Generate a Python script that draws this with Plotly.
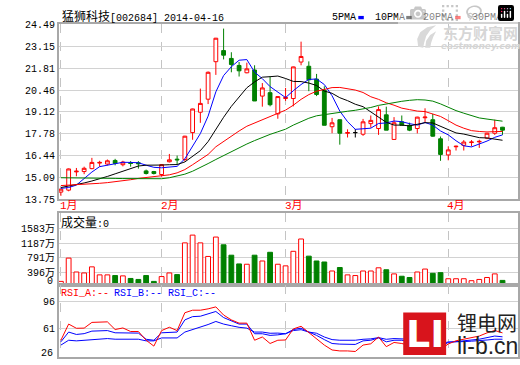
import plotly.graph_objects as go

# ---------------- data ----------------
idx = list(range(58))
month_idx = [0, 13, 29, 50]
month_labels = ["1月", "2月", "3月", "4月"]

opens = [14.20, 14.32, 15.44, 15.46, 15.64, 15.98, 15.92, 16.14, 15.88, 16.00,
         16.00, 15.50, 15.46, 15.28, 16.06, 16.22, 16.20, 17.85, 19.10, 19.90,
         22.20, 22.88, 22.40, 21.97, 21.52, 21.69, 20.09, 20.30, 19.00, 19.94,
         19.94, 22.18, 21.92, 21.13, 20.45, 18.21, 18.64, 17.81, 17.85, 17.75,
         18.40, 18.10, 18.94, 17.43, 18.51, 18.30, 18.10, 18.76, 18.64, 17.47,
         16.48, 16.98, 17.07, 17.24, 17.28, 17.51, 17.81, 18.18]
highs = [14.40, 15.65, 15.68, 15.76, 16.30, 16.12, 16.20, 16.24, 16.12, 16.10,
         16.10, 15.58, 15.50, 15.92, 16.54, 16.44, 17.65, 19.32, 20.55, 21.60,
         23.66, 24.23, 22.78, 22.18, 22.14, 21.98, 20.89, 21.29, 20.08, 20.59,
         21.90, 23.43, 22.22, 21.45, 20.69, 18.75, 18.66, 18.05, 18.07, 18.69,
         18.90, 19.46, 19.44, 18.80, 18.90, 18.46, 18.82, 19.34, 19.00, 17.61,
         17.01, 17.05, 17.39, 17.39, 17.41, 17.83, 18.64, 18.20]
lows = [13.97, 14.25, 15.17, 15.30, 15.60, 15.76, 15.84, 15.84, 15.78, 15.76,
        15.64, 15.28, 15.28, 15.16, 16.02, 15.90, 16.08, 17.41, 18.45, 19.60,
        21.39, 22.34, 21.55, 21.29, 21.49, 19.79, 19.44, 19.46, 18.70, 19.79,
        19.46, 21.98, 20.39, 20.09, 18.30, 17.81, 17.11, 17.55, 17.55, 17.65,
        18.15, 17.71, 18.00, 17.43, 18.30, 17.94, 17.80, 18.46, 17.60, 16.12,
        16.15, 16.75, 16.75, 17.01, 16.91, 17.45, 17.71, 17.71]
closes = [14.38, 15.62, 15.48, 15.66, 16.02, 16.02, 16.12, 15.96, 16.04, 15.96,
          15.94, 15.34, 15.34, 15.88, 16.18, 16.18, 17.63, 19.30, 19.64, 21.55,
          23.64, 22.60, 22.03, 21.64, 21.76, 19.79, 20.59, 19.56, 20.06, 20.00,
          21.88, 22.52, 21.09, 20.19, 18.30, 18.45, 17.81, 17.85, 17.85, 18.51,
          18.60, 19.26, 18.00, 18.45, 18.30, 18.00, 18.80, 18.80, 17.63, 16.51,
          16.79, 17.01, 17.27, 17.27, 17.31, 17.81, 18.15, 18.00]

ma5 = [14.43, 14.48, 14.63, 15.02, 15.43, 15.76, 15.86, 15.96, 16.03, 16.02,
       16.00, 15.85, 15.72, 15.69, 15.74, 15.78, 16.24, 17.03, 17.79, 18.86,
       20.35, 21.35, 21.89, 22.29, 22.33, 21.56, 21.16, 20.67, 20.35, 20.00,
       20.42, 20.80, 21.11, 21.14, 20.80, 20.11, 19.17, 18.52, 18.05, 18.09,
       18.12, 18.41, 18.44, 18.56, 18.52, 18.40, 18.31, 18.47, 18.31, 17.95,
       17.71, 17.35, 17.04, 16.97, 17.13, 17.33, 17.56, 17.71]
ma10 = [14.48, 14.57, 14.65, 14.76, 14.88, 15.00, 15.16, 15.32, 15.48, 15.62,
        15.80, 15.85, 15.84, 15.86, 15.88, 15.89, 16.05, 16.38, 16.74, 17.30,
        18.07, 18.79, 19.46, 20.04, 20.60, 20.96, 21.25, 21.28, 21.32, 21.17,
        20.99, 20.98, 20.89, 20.74, 20.40, 20.26, 19.99, 19.81, 19.59, 19.44,
        19.12, 18.79, 18.48, 18.31, 18.31, 18.26, 18.36, 18.46, 18.44, 18.24,
        18.05, 17.83, 17.76, 17.64, 17.54, 17.52, 17.46, 17.38]
ma20 = [14.60, 14.62, 14.64, 14.67, 14.70, 14.74, 14.78, 14.83, 14.88, 14.96,
        15.04, 15.10, 15.15, 15.20, 15.26, 15.38, 15.58, 15.88, 16.20, 16.51,
        16.98, 17.32, 17.65, 17.95, 18.24, 18.43, 18.65, 18.83, 19.03, 19.23,
        19.53, 19.89, 20.18, 20.39, 20.50, 20.61, 20.62, 20.55, 20.46, 20.31,
        20.05, 19.89, 19.68, 19.53, 19.35, 19.26, 19.17, 19.14, 19.01, 18.84,
        18.58, 18.31, 18.12, 17.97, 17.92, 17.89, 17.91, 17.92]
ma30 = [15.08, 15.08, 15.07, 15.07, 15.06, 15.06, 15.05, 15.04, 15.03, 15.02,
        15.01, 15.00, 15.00, 15.02, 15.08, 15.17, 15.30, 15.48, 15.70, 15.95,
        16.20, 16.45, 16.70, 16.93, 17.15, 17.36, 17.56, 17.74, 17.90, 18.06,
        18.31, 18.54, 18.73, 18.88, 18.96, 19.04, 19.10, 19.16, 19.22, 19.30,
        19.39, 19.52, 19.61, 19.70, 19.77, 19.83, 19.87, 19.85, 19.78, 19.61,
        19.39, 19.20, 19.04, 18.90, 18.75, 18.68, 18.60, 18.55]

volume = [150, 784, 406, 380, 546, 327, 327, 309, 300, 230,
          203, 309, 150, 282, 380, 335, 1198, 1410, 1198, 829,
          1357, 1146, 863, 626, 617, 863, 705, 942, 617, 573,
          969, 1304, 837, 705, 678, 433, 528, 327, 309, 433,
          433, 520, 467, 354, 290, 256, 406, 486, 370, 388,
          222, 222, 222, 169, 203, 256, 354, 177]

rsi_a = [46.7, 67.1, 61.8, 62.0, 69.2, 69.2, 69.9, 60.2, 62.2, 57.7,
         57.7, 46.7, 39.3, 58.9, 63.1, 58.9, 81.4, 84.6, 84.6, 86.3,
         88.8, 78.5, 72.4, 68.3, 68.3, 46.7, 50.8, 42.6, 46.7, 47.0,
         61.0, 64.3, 56.1, 48.8, 40.6, 34.4, 33.2, 33.2, 32.5, 40.6,
         42.2, 50.8, 38.6, 43.9, 42.6, 40.0, 50.0, 52.0, 42.6, 35.0,
         42.0, 46.0, 48.0, 50.0, 52.0, 56.0, 59.0, 56.0]
rsi_b = [44.7, 57.0, 54.0, 55.0, 58.2, 58.2, 58.9, 56.1, 56.1, 56.1,
         55.7, 47.9, 46.7, 56.1, 57.0, 57.0, 72.4, 76.5, 77.0, 80.2,
         83.0, 75.3, 71.2, 67.1, 67.1, 54.9, 54.9, 52.8, 53.5, 54.9,
         60.2, 61.9, 57.0, 52.8, 47.5, 42.6, 41.8, 41.8, 41.4, 45.9,
         46.7, 49.6, 44.7, 46.7, 46.7, 45.0, 49.0, 50.0, 44.0, 38.6,
         44.0, 45.0, 46.0, 47.0, 48.0, 50.0, 52.0, 51.0]
rsi_c = [40.6, 46.7, 45.9, 46.5, 47.9, 48.2, 48.8, 48.0, 48.0, 48.0,
         48.0, 45.9, 45.9, 49.6, 49.6, 49.6, 57.0, 60.0, 63.0, 66.5,
         70.4, 67.1, 65.0, 63.0, 62.0, 57.0, 57.0, 55.5, 55.7, 54.9,
         58.9, 60.0, 57.0, 55.5, 50.8, 47.5, 46.7, 46.7, 46.7, 47.9,
         48.4, 50.0, 47.9, 48.8, 48.8, 48.0, 49.0, 49.5, 46.0, 42.5,
         44.5, 44.5, 45.0, 45.5, 46.0, 47.0, 48.0, 48.0]

price_ticks = [13.75, 15.09, 16.44, 17.78, 19.12, 20.46, 21.81, 23.15, 24.49]
vol_ticks = [396, 791, 1187, 1583]
vol_tick_text = ["396万", "791万", "1187万", "1583万"]
rsi_ticks = [96, 61]

# ---------------- styling helpers ----------------
W, H = 520, 365
def fx(px): return px / W
def fy(py): return 1 - py / H

RED = "#FF0000"
GREEN = "#008000"
BLUE = "#0000FF"
GRID = "#d2d2d2"
BORDER = "#a8a8a8"
MONO = "Liberation Mono, Noto Sans CJK SC, monospace"

fig = go.Figure()

# candles (regular + the flat doji drawn black)
doji = [i for i in idx if opens[i] == closes[i]]
reg = [i for i in idx if i not in doji]
fig.add_trace(go.Candlestick(
    x=reg, open=[opens[i] for i in reg], high=[highs[i] for i in reg],
    low=[lows[i] for i in reg], close=[closes[i] for i in reg],
    increasing=dict(line=dict(color=RED, width=1), fillcolor="white"),
    decreasing=dict(line=dict(color=GREEN, width=1), fillcolor=GREEN),
    whiskerwidth=0, xaxis="x", yaxis="y", hoverinfo="skip"))
fig.add_trace(go.Candlestick(
    x=doji, open=[opens[i] for i in doji], high=[highs[i] for i in doji],
    low=[lows[i] for i in doji], close=[closes[i] for i in doji],
    increasing=dict(line=dict(color="black", width=1), fillcolor="black"),
    decreasing=dict(line=dict(color="black", width=1), fillcolor="black"),
    whiskerwidth=0, xaxis="x", yaxis="y", hoverinfo="skip"))

for arr, col in [(ma5, BLUE), (ma10, "black"), (ma20, RED), (ma30, GREEN)]:
    fig.add_trace(go.Scatter(x=idx, y=arr, mode="lines",
                             line=dict(color=col, width=1),
                             xaxis="x", yaxis="y", hoverinfo="skip"))

# volume
up = [i for i in idx if closes[i] >= opens[i]]
dn = [i for i in idx if closes[i] < opens[i]]
fig.add_trace(go.Bar(x=up, y=[volume[i] for i in up], width=0.62,
                     marker=dict(color="white", line=dict(color=RED, width=1)),
                     xaxis="x2", yaxis="y2", hoverinfo="skip"))
fig.add_trace(go.Bar(x=dn, y=[volume[i] for i in dn], width=0.62,
                     marker=dict(color=GREEN, line=dict(color=GREEN, width=1)),
                     xaxis="x2", yaxis="y2", hoverinfo="skip"))

# RSI
for arr, col in [(rsi_c, BLUE), (rsi_b, BLUE), (rsi_a, RED)]:
    fig.add_trace(go.Scatter(x=idx, y=arr, mode="lines",
                             line=dict(color=col, width=1),
                             xaxis="x3", yaxis="y3", hoverinfo="skip"))

xr = [-0.26, 59.0]
xdom = [fx(59), fx(519)]
xcommon = dict(domain=xdom, range=xr, showticklabels=False, tickvals=month_idx,
               showgrid=True, gridcolor="#c4c4c4", griddash="dash", gridwidth=1,
               zeroline=False, showline=True, mirror=True, linecolor=BORDER,
               linewidth=1.5, ticks="", fixedrange=True)
ycommon = dict(showgrid=True, gridcolor=GRID, gridwidth=1, zeroline=False,
               showline=True, mirror=True, linecolor=BORDER, linewidth=1.5,
               ticks="", tickfont=dict(family=MONO, size=10, color="black"),
               fixedrange=True)

fig.update_layout(
    width=W, height=H, margin=dict(l=0, r=0, t=0, b=0),
    paper_bgcolor="white", plot_bgcolor="white", showlegend=False,
    barmode="overlay",
    xaxis=dict(**xcommon, anchor="y", rangeslider=dict(visible=False)),
    xaxis2=dict(**xcommon, anchor="y2"),
    xaxis3=dict(**xcommon, anchor="y3"),
    yaxis=dict(**ycommon, domain=[fy(201.5), fy(21)], range=[13.75, 24.49],
               tickvals=price_ticks, ticktext=[f"{v:.2f}" for v in price_ticks],
               anchor="x"),
    yaxis2=dict(**ycommon, domain=[fy(289.5), fy(215.7)], range=[58, 2006],
                tickvals=vol_ticks, ticktext=vol_tick_text, anchor="x2"),
    yaxis3=dict(**ycommon, domain=[fy(364), fy(289.5)], range=[25.5, 116.7],
                tickvals=rsi_ticks, ticktext=[str(v) for v in rsi_ticks],
                anchor="x3"),
)

ann = []
def txt(x, y, s, size=10, color="black", anchor="left", family=MONO, **kw):
    ann.append(dict(x=fx(x), y=fy(y), xref="paper", yref="paper", text=s,
                    showarrow=False, xanchor=anchor, yanchor="middle",
                    font=dict(family=family, size=size, color=color), **kw))

txt(60, 13.5, "<span style='font-size:12px'>猛狮科技</span>[002684] 2014-04-16")
txt(331, 14, "5PMA")
txt(373.5, 14, "10PMA")
txt(421.5, 14, "20PMA")
txt(470.5, 14, "30PMA")
txt(59.5, 226, "<span style='font-size:12px'>成交量</span>:0")
txt(55, 286, "0", anchor="right")
txt(55, 360, "26", anchor="right")
txt(59.5, 298.5, "RSI_A:--", color=RED)
txt(112.5, 298.5, "RSI_B:--", color=BLUE)
txt(166, 298.5, "RSI_C:--", color=BLUE)

# month labels positioned through the x scale
for m, lab in zip(month_idx, month_labels):
    ann.append(dict(x=m, y=fy(208), xref="x", yref="paper", text=lab,
                    showarrow=False, xanchor="left", yanchor="middle", xshift=-3,
                    font=dict(family=MONO, size=11, color=RED)))

# watermarks
txt(442, 29.5, "<b>东方财富网</b>", size=15, color="#d6d6d6",
    family="Noto Sans CJK SC")
txt(440, 43, "<b><i>eastmoney.com</i></b>", size=9, color="#d6d6d6",
    family="DejaVu Sans")
txt(456, 328, "锂电网", size=20, color="#222222", family="Noto Sans CJK SC")
txt(456, 353, "li-b.cn", size=23, color="#222222", family="Liberation Sans")
ann.append(dict(x=fx(425.5), y=fy(340), xref="paper", yref="paper",
                text="<b>LI</b>", showarrow=False, xanchor="center",
                yanchor="middle",
                font=dict(family="DejaVu Sans", size=38, color="white")))
fig.update_layout(annotations=ann)

shapes = []
for x0, col in [(359, BLUE), (407, "black"), (456, RED), (503, GREEN)]:
    shapes.append(dict(type="rect", xref="paper", yref="paper",
                       x0=fx(x0), x1=fx(x0 + 5.5), y0=fy(15.7), y1=fy(12.3),
                       fillcolor=col, line=dict(width=0)))
# red LI logo box
shapes.append(dict(type="rect", xref="paper", yref="paper", layer="above",
                   x0=fx(404), x1=fx(447), y0=fy(362), y1=fy(318),
                   fillcolor="#d8141c", line=dict(width=0)))
# eastmoney swoosh logo
def path(pts):
    s = "M " + " L ".join(f"{fx(a):.5f},{fy(b):.5f}" for a, b in pts) + " Z"
    return s
shapes.append(dict(type="path", xref="paper", yref="paper",
                   path=path([(419, 44), (418, 36), (421, 29), (428, 24), (437, 22),
                              (431, 27), (427, 33), (425, 40), (424, 45)]),
                   fillcolor="#d9d9d9", line=dict(width=0)))
shapes.append(dict(type="path", xref="paper", yref="paper",
                   path=path([(426, 45), (427, 38), (431, 32), (437, 28),
                              (434, 34), (432, 40), (431, 45)]),
                   fillcolor="#d9d9d9", line=dict(width=0)))
fig.update_layout(shapes=shapes)

fig.write_html("out.html",
               post_script="document.body.style.margin='0px';"
                           "document.body.style.overflow='hidden';")
